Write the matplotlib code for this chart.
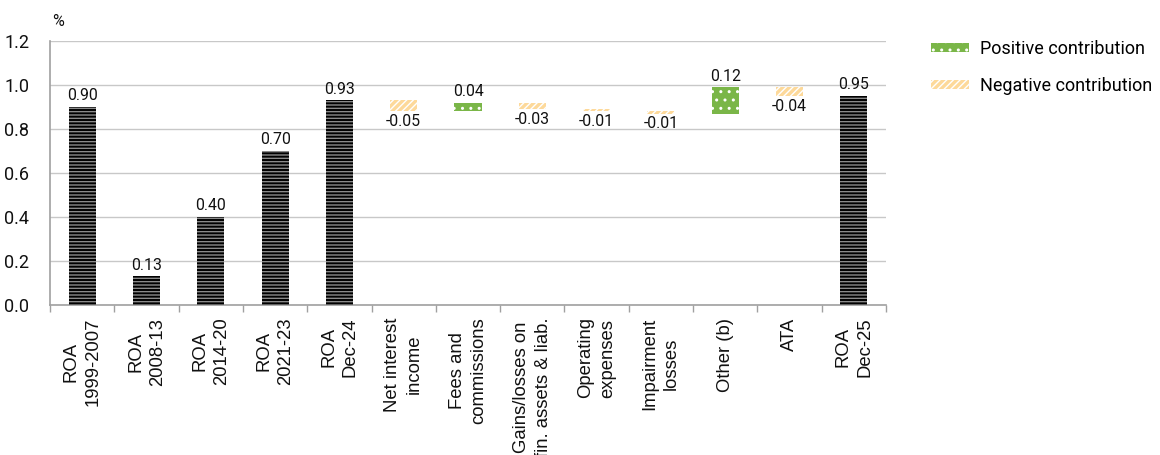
import matplotlib
matplotlib.use("Agg")
import matplotlib.pyplot as plt
from matplotlib.patches import Patch
import numpy as np

plt.rcParams['font.family'] = ['Roboto', 'DejaVu Sans']
plt.rcParams['hatch.linewidth'] = 1.0

categories = [
    "ROA\n1999-2007", "ROA\n2008-13", "ROA\n2014-20", "ROA\n2021-23", "ROA\nDec-24",
    "Net interest\nincome", "Fees and\ncommissions", "Gains/losses on\nfin. assets & liab.",
    "Operating\nexpenses", "Impairment\nlosses", "Other (b)", "ATA", "ROA\nDec-25",
]
# Levels (full bars) and contributions (floating bars)
roa_levels = [0.90, 0.13, 0.40, 0.70, 0.93]
contributions = [-0.05, 0.04, -0.03, -0.01, -0.01, 0.12, -0.04]
roa_final = 0.95
yticks = [0.0, 0.2, 0.4, 0.6, 0.8, 1.0, 1.2]

GREEN = "#7ab648"
ORANGE = "#fdd99a"
GRID = "#c8c8c8"

fig = plt.figure(figsize=(11.6, 4.55), dpi=100)
ax = fig.add_axes([50 / 1160, 1 - 305 / 455, (886 - 50) / 1160, (305 - 41) / 455])

width = 0.42
label_fs = 11.4

def level_bar(x, v):
    ax.bar(x, v, width, color="black", edgecolor="#8a8a8a", hatch="-----", linewidth=0, zorder=3)
    ax.text(x, v + 0.016, f"{v:.2f}", ha="center", va="bottom", fontsize=label_fs, color="#111111")

x = 0
for v in roa_levels:
    level_bar(x, v)
    x += 1

running = roa_levels[-1]
for c in contributions:
    bottom = running if c >= 0 else running + c
    if c >= 0:
        ax.bar(x, c, width, bottom=bottom, color=GREEN, edgecolor="white", hatch="..",
               linewidth=0, zorder=3)
        ax.text(x, bottom + c + 0.016, f"{c:.2f}", ha="center", va="bottom",
                fontsize=label_fs, color="#111111")
    else:
        ax.bar(x, -c, width, bottom=bottom, color=ORANGE, edgecolor="white", hatch="/////",
               linewidth=0, zorder=3)
        ax.text(x, bottom - 0.012, f"{c:.2f}", ha="center", va="top",
                fontsize=label_fs, color="#111111")
    running += c
    x += 1

level_bar(x, roa_final)

n = len(categories)
ax.set_xlim(-0.5, n - 0.5)
ax.set_ylim(0, 1.2)
ax.set_yticks(yticks)
ax.set_yticklabels([f"{t:.1f}" for t in yticks], fontsize=13, color="#111111")
ax.tick_params(axis="y", length=0, pad=15)
ax.set_xticks(np.arange(n))
ax.set_xticklabels(categories, rotation=90, ha="center", va="top", fontsize=13.3,
                   color="#111111", linespacing=1.35,
                   family=["Liberation Sans", "DejaVu Sans"])
ax.tick_params(axis="x", length=0, pad=9)
ax.set_xticks(np.arange(n + 1) - 0.5, minor=True)
ax.tick_params(axis="x", which="minor", length=5, color="#a0a0a0", width=1)

ax.grid(axis="y", color=GRID, linewidth=1, zorder=0)
ax.set_axisbelow(True)
for s in ["top", "right"]:
    ax.spines[s].set_visible(False)
for s in ["left", "bottom"]:
    ax.spines[s].set_color("#a0a0a0")
    ax.spines[s].set_linewidth(1.2)

fig.text(52 / 1160, 1 - 21 / 455, "%", fontsize=11.5, ha="left", va="center", color="#111111")

handles = [
    Patch(facecolor=GREEN, edgecolor="white", hatch="..", linewidth=0, label="Positive contribution"),
    Patch(facecolor=ORANGE, edgecolor="white", hatch="/////", linewidth=0, label="Negative contribution"),
]
fig.legend(handles=handles, loc="upper left", bbox_to_anchor=(931 / 1160, 1 - 40 / 455),
           frameon=False, fontsize=13, handlelength=2.1, handleheight=0.45,
           handletextpad=0.6, labelspacing=1.05, borderaxespad=0, borderpad=0.0)

fig.savefig("out.png", dpi=100)
